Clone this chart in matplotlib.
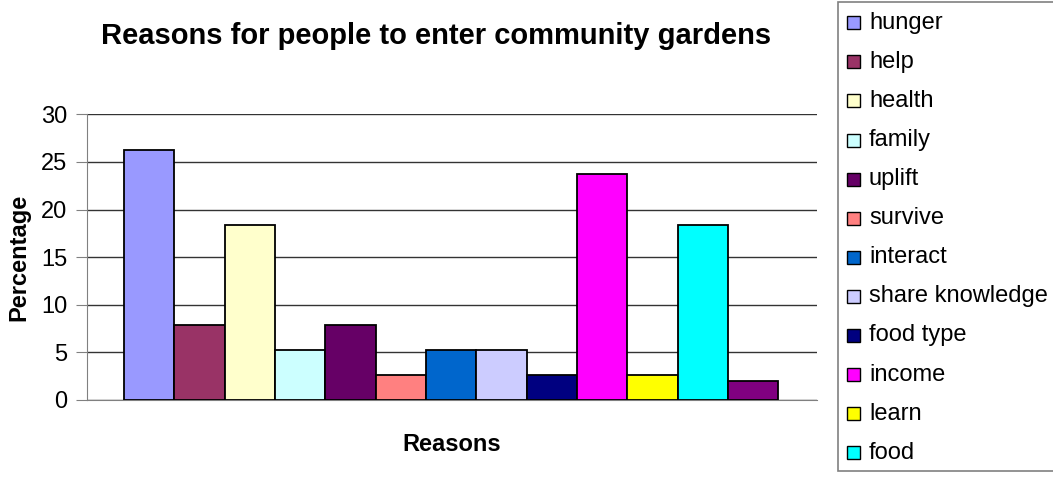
import matplotlib
matplotlib.use("Agg")
import matplotlib.pyplot as plt
from matplotlib.patches import Rectangle

categories = ["hunger", "help", "health", "family", "uplift", "survive", "interact",
              "share knowledge", "food type", "income", "learn", "food", "other"]
values = [26.2, 7.9, 18.4, 5.3, 7.9, 2.6, 5.3, 5.3, 2.6, 23.7, 2.6, 18.4, 2.0]
colors = ["#9999FF", "#993366", "#FFFFCC", "#CCFFFF", "#660066", "#FF8080", "#0066CC",
          "#CCCCFF", "#000080", "#FF00FF", "#FFFF00", "#00FFFF", "#800080"]
legend_count = 12
yticks = [0, 5, 10, 15, 20, 25, 30]

plt.rcParams['font.family'] = ['Liberation Sans', 'DejaVu Sans']

W, H = 1053, 484
fig = plt.figure(figsize=(W / 100, H / 100), dpi=100)
ax = fig.add_axes([86.7 / W, 1 - 400 / H, (817 - 86.7) / W, (400 - 114.3) / H])

x = list(range(len(values)))
ax.bar(x, values, width=1.0, color=colors, edgecolor="black", linewidth=1.3, zorder=3)
ax.set_xlim(-0.5 - 0.74, len(values) - 0.5 + 0.77)
ax.set_ylim(0, 30)
ax.set_yticks(yticks)
ax.set_yticklabels([str(t) for t in yticks], fontsize=17)
ax.set_xticks([])
ax.yaxis.grid(True, color="#333333", linewidth=1.0, zorder=0)
for s in ["top", "right"]:
    ax.spines[s].set_visible(False)
ax.spines["left"].set_color("#808080")
ax.spines["bottom"].set_color("#808080")
ax.tick_params(axis="y", direction="out", length=8, color="#808080", pad=6)
ax.set_ylabel("Percentage", fontsize=17, fontweight="bold", labelpad=8)
ax.set_xlabel("Reasons", fontsize=17, fontweight="bold", labelpad=24)
fig.text(436 / W, 1 - 36 / H, "Reasons for people to enter community gardens",
         fontsize=21, fontweight="bold", ha="center", va="center")

# legend
fig.patches.append(Rectangle((838 / W, 1 - 471 / H), 230 / W, (471 - 2) / H,
                             transform=fig.transFigure, facecolor="white",
                             edgecolor="#808080", linewidth=1.2))
y0, dy = 22.7, 39.1
for i in range(legend_count):
    yc = y0 + i * dy
    fig.patches.append(Rectangle((847 / W, 1 - (yc + 6.5) / H), 13 / W, 13 / H,
                                 transform=fig.transFigure, facecolor=colors[i],
                                 edgecolor="black", linewidth=1.0))
    fig.text(869 / W, 1 - yc / H, categories[i], fontsize=17, ha="left", va="center")

fig.savefig("out.png", dpi=100)
